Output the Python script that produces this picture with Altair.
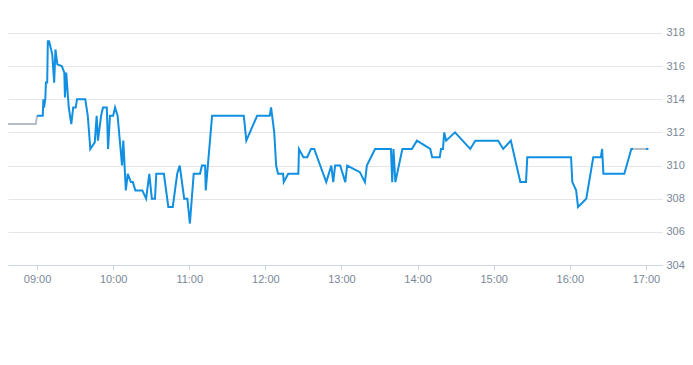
import altair as alt
import pandas as pd

# Main trading session (blue)
blue_times = [
    "09:00:00", "09:04:30", "09:05:00", "09:05:30", "09:06:30", "09:07:00", "09:08:00", "09:08:30",
    "09:09:30", "09:12:00", "09:13:30", "09:14:30", "09:16:00", "09:19:30", "09:21:30", "09:22:00",
    "09:23:00", "09:25:00", "09:27:00", "09:28:30", "09:30:30", "09:31:30", "09:38:00", "09:40:00",
    "09:42:00", "09:45:30", "09:47:00", "09:48:00", "09:50:30", "09:52:00", "09:55:00", "09:56:00",
    "09:57:30", "10:00:00", "10:01:30", "10:03:30", "10:07:00", "10:08:00", "10:10:00", "10:11:30",
    "10:14:00", "10:15:30", "10:17:30", "10:23:00", "10:26:00", "10:28:30", "10:30:30", "10:33:00",
    "10:34:00", "10:40:00", "10:43:30", "10:47:00", "10:50:30", "10:52:30", "10:56:00", "10:58:30",
    "11:00:30", "11:03:30", "11:08:30", "11:10:00", "11:12:30", "11:13:00", "11:18:00", "11:43:00",
    "11:45:00", "11:53:30", "12:03:30", "12:04:30", "12:07:00", "12:08:30", "12:10:00", "12:14:00",
    "12:14:30", "12:18:00", "12:26:00", "12:26:30", "12:30:00", "12:33:00", "12:36:00", "12:38:30",
    "12:48:00", "12:52:00", "12:53:30", "12:55:00", "12:59:00", "13:03:00", "13:04:30", "13:14:30",
    "13:18:30", "13:20:00", "13:26:30", "13:39:00", "13:40:00", "13:41:00", "13:42:30", "13:48:00",
    "13:55:30", "13:59:30", "14:10:00", "14:11:30", "14:17:30", "14:18:30", "14:20:00", "14:21:00",
    "14:22:30", "14:29:30", "14:41:30", "14:45:30", "15:03:30", "15:07:30", "15:13:30", "15:21:00",
    "15:25:30", "15:26:30", "16:01:00", "16:02:00", "16:05:00", "16:06:30", "16:13:00", "16:18:30",
    "16:24:30", "16:25:30", "16:26:30", "16:43:00", "16:48:30", "16:50:00",
]
blue_values = [
    313.0, 313.0, 314.0, 313.5, 314.0, 315.0, 315.0, 317.5,
    317.5, 316.7, 315.0, 317.0, 316.1, 316.0, 315.6, 314.1,
    315.6, 313.5, 312.5, 313.5, 313.5, 314.0, 314.0, 313.0,
    311.0, 311.4, 313.0, 311.5, 313.0, 313.5, 313.5, 311.0,
    313.0, 313.0, 313.5, 313.0, 310.0, 311.5, 308.5, 309.5,
    309.0, 309.0, 308.5, 308.5, 308.0, 309.5, 308.0, 308.0,
    309.5, 309.5, 307.5, 307.5, 309.5, 310.0, 308.0, 308.0,
    306.5, 309.5, 309.5, 310.0, 310.0, 308.5, 313.0, 313.0,
    311.5, 313.0, 313.0, 313.5, 312.0, 310.0, 309.5, 309.5,
    309.0, 309.5, 309.5, 311.0, 310.5, 310.5, 311.0, 311.0,
    309.0, 310.0, 309.0, 310.0, 310.0, 309.0, 310.0, 309.6,
    309.0, 310.0, 311.0, 311.0, 309.0, 311.0, 309.0, 311.0,
    311.0, 311.5, 311.0, 310.5, 310.5, 311.0, 311.0, 312.0,
    311.5, 312.0, 311.0, 311.5, 311.5, 311.0, 311.5, 309.0,
    309.0, 310.5, 310.5, 309.0, 308.5, 307.5, 308.0, 310.5,
    310.5, 311.0, 309.5, 309.5, 311.0, 311.0,
]

# Pre-market (grey)
pre_times = ["08:30:00", "08:59:00", "09:00:00"]
pre_values = [312.5, 312.5, 313.0]

# After-hours (grey) and last print (blue)
post_times = ["16:50:00", "17:00:00"]
post_values = [311.0, 311.0]
last_times = ["17:00:00", "17:02:00"]
last_values = [311.0, 311.0]

y_ticks = [304, 306, 308, 310, 312, 314, 316, 318]
x_ticks = ["09:00", "10:00", "11:00", "12:00", "13:00", "14:00", "15:00", "16:00", "17:00"]


def to_min(s):
    parts = [int(p) for p in s.split(":")]
    m = parts[0] * 60 + parts[1]
    if len(parts) > 2:
        m += parts[2] / 60
    return m


rows = []
for seg, ts, vs in [("pre", pre_times, pre_values), ("main", blue_times, blue_values),
                    ("post", post_times, post_values), ("last", last_times, last_values)]:
    for i, (t, v) in enumerate(zip(ts, vs)):
        rows.append({"seg": seg, "t": to_min(t), "v": v, "order": i})
df = pd.DataFrame(rows)

x_vals = [to_min(t) for t in x_ticks]

LABEL_COLOR = "#7a8796"

chart = alt.Chart(df).mark_line(strokeWidth=2, clip=True, interpolate="linear").encode(
    x=alt.X("t:Q",
            scale=alt.Scale(domain=[to_min("08:37:06"), to_min("17:12:42")], nice=False, zero=False),
            axis=alt.Axis(values=x_vals, title=None, grid=False,
                          labelExpr="(datum.value < 600 ? '0' : '') + floor(datum.value / 60) + ':00'",
                          domainColor="#ccd6eb", tickColor="#ccd6eb", tickSize=5,
                          labelPadding=3, labelFontSize=11, labelColor=LABEL_COLOR,
                          labelFont="Liberation Sans", labelFlush=False)),
    y=alt.Y("v:Q",
            scale=alt.Scale(domain=[304, 319.5], nice=False, zero=False),
            axis=alt.Axis(orient="right", values=y_ticks, title=None, grid=True,
                          gridColor="#e6e6e6", gridWidth=1, domain=False, ticks=False,
                          labelPadding=4, labelAlign="left", labelFontSize=11,
                          labelColor=LABEL_COLOR, labelFont="Liberation Sans",
                          labelFlush=False)),
    color=alt.Color("seg:N",
                    scale=alt.Scale(domain=["pre", "main", "post", "last"],
                                    range=["#b4bcc4", "#118fe0", "#b4bcc4", "#118fe0"]),
                    legend=None),
    detail="seg:N",
    order="order:Q",
).properties(
    width=654, height=257, padding=0
).configure_view(stroke=None)

chart.save("out.html", embed_options={"renderer": "svg", "actions": False})
